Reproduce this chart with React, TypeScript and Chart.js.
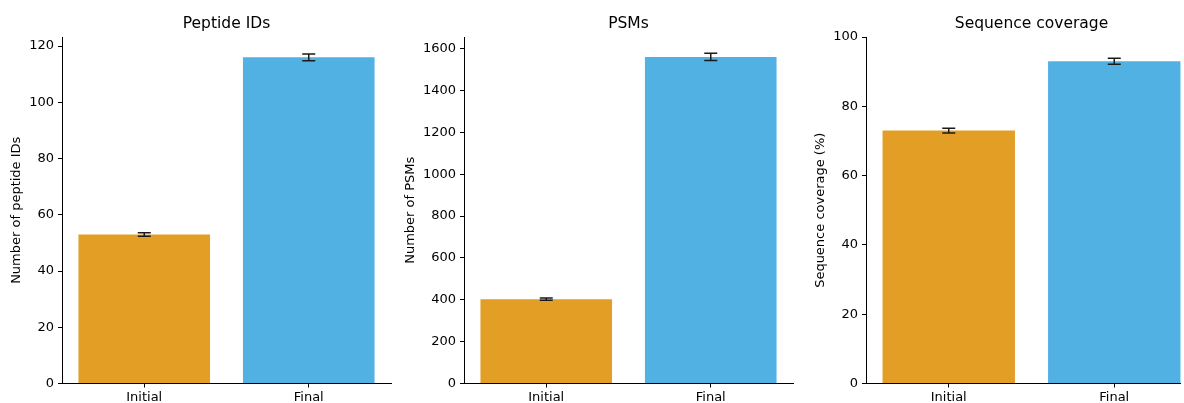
import { useEffect, useRef } from "react";
import { Chart, registerables } from "chart.js";

Chart.register(...registerables);

const categories = ["Initial", "Final"];
const barColors = ["#E39E26", "#52B1E3"];

const peptideMeans = [53, 116];
const peptideErrors = [0.6, 1.2];
const peptideTicks = [0, 20, 40, 60, 80, 100, 120];

const psmMeans = [403, 1560];
const psmErrors = [5, 17];
const psmTicks = [0, 200, 400, 600, 800, 1000, 1200, 1400, 1600];

const coverageMeans = [73.0, 93.0];
const coverageErrors = [0.7, 0.9];
const coverageTicks = [0, 20, 40, 60, 80, 100];

const FONT = "'DejaVu Sans', sans-serif";

type PanelSpec = {
  title: string;
  yTitle: string;
  means: number[];
  errors: number[];
  ticks: number[];
  yMax: number;
  left: number;
  width: number;
  axisWidth: number;
  padRight: number;
  yTitlePad: number;
};

const panels: PanelSpec[] = [
  {
    title: "Peptide IDs",
    yTitle: "Number of peptide IDs",
    means: peptideMeans,
    errors: peptideErrors,
    ticks: peptideTicks,
    yMax: 123.2,
    left: 0,
    width: 400,
    axisWidth: 62,
    padRight: 9,
    yTitlePad: 9.5,
  },
  {
    title: "PSMs",
    yTitle: "Number of PSMs",
    means: psmMeans,
    errors: psmErrors,
    ticks: psmTicks,
    yMax: 1655,
    left: 400,
    width: 400,
    axisWidth: 64,
    padRight: 7,
    yTitlePad: 3.5,
  },
  {
    title: "Sequence coverage",
    yTitle: "Sequence coverage (%)",
    means: coverageMeans,
    errors: coverageErrors,
    ticks: coverageTicks,
    yMax: 100,
    left: 800,
    width: 400,
    axisWidth: 66,
    padRight: 3,
    yTitlePad: 13.5,
  },
];

const errorBarPlugin = {
  id: "errorBars",
  afterDatasetsDraw(chart: any, _args: any, opts: any) {
    const { ctx } = chart;
    const xs = chart.scales.x;
    const ys = chart.scales.y;
    const means: number[] = opts.means;
    const errors: number[] = opts.errors;
    ctx.save();
    ctx.strokeStyle = "#1a1a1a";
    ctx.lineWidth = 1.5;
    means.forEach((m, i) => {
      const x = xs.getPixelForValue(i);
      const yt = ys.getPixelForValue(m + errors[i]);
      const yb = ys.getPixelForValue(m - errors[i]);
      const cap = 6.5;
      ctx.beginPath();
      ctx.moveTo(x, yt);
      ctx.lineTo(x, yb);
      ctx.moveTo(x - cap, yt);
      ctx.lineTo(x + cap, yt);
      ctx.moveTo(x - cap, yb);
      ctx.lineTo(x + cap, yb);
      ctx.stroke();
    });
    ctx.restore();
  },
};

function Panel({ spec }: { spec: PanelSpec }) {
  const ref = useRef<HTMLCanvasElement | null>(null);
  useEffect(() => {
    if (!ref.current) return;
    const chart = new Chart(ref.current, {
      type: "bar",
      data: {
        labels: categories,
        datasets: [
          {
            data: spec.means,
            backgroundColor: barColors,
            borderWidth: 0,
            barPercentage: 0.8,
            categoryPercentage: 1.0,
          },
        ],
      },
      plugins: [errorBarPlugin],
      options: {
        responsive: false,
        animation: false,
        layout: { padding: { left: 0, right: spec.padRight, top: 0, bottom: 0 } },
        plugins: {
          legend: { display: false },
          tooltip: { enabled: false },
          title: {
            display: true,
            text: spec.title,
            fullSize: false,
            color: "#000",
            font: { family: FONT, size: 15.5, weight: "normal" },
            padding: { top: 15, bottom: 3.4 },
          },
          errorBars: { means: spec.means, errors: spec.errors },
        } as any,
        scales: {
          x: {
            type: "category",
            offset: true,
            grid: {
              offset: false,
              drawOnChartArea: false,
              drawTicks: true,
              tickLength: 4,
              color: "#000",
            },
            border: { display: true, color: "#000", width: 1 },
            ticks: {
              color: "#000",
              padding: 2,
              font: { family: FONT, size: 13 },
            },
            afterFit: (axis: any) => {
              axis.height = 19.5;
            },
          },
          y: {
            type: "linear",
            min: 0,
            max: spec.yMax,
            grid: {
              drawOnChartArea: false,
              drawTicks: true,
              tickLength: 4,
              color: "#000",
            },
            border: { display: true, color: "#000", width: 1 },
            ticks: {
              color: "#000",
              padding: 4,
              font: { family: FONT, size: 13 },
              callback: (v: any) => String(v),
            },
            afterBuildTicks: (axis: any) => {
              axis.ticks = spec.ticks.map((v) => ({ value: v }));
            },
            afterFit: (axis: any) => {
              axis.width = spec.axisWidth;
            },
            title: {
              display: true,
              text: spec.yTitle,
              color: "#000",
              font: { family: FONT, size: 13 },
              padding: { top: spec.yTitlePad - 0.3, bottom: 0 },
            },
          },
        },
      } as any,
    });
    return () => chart.destroy();
  }, [spec]);

  return (
    <canvas
      ref={ref}
      width={spec.width}
      height={403}
      style={{ position: "absolute", left: spec.left, top: 0, display: "block" }}
    />
  );
}

export default function App() {
  return (
    <div
      style={{
        position: "fixed",
        left: 0,
        top: 0,
        width: 1181,
        height: 403,
        overflow: "hidden",
        background: "#fff",
      }}
    >
      {panels.map((p) => (
        <Panel key={p.title} spec={p} />
      ))}
    </div>
  );
}
